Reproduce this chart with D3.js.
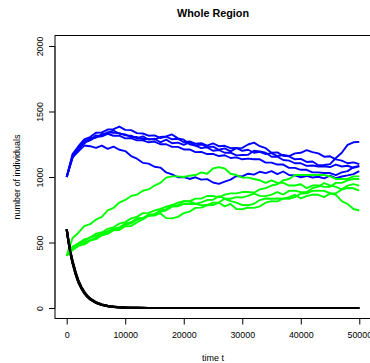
<!DOCTYPE html>
<html>
<head>
<meta charset="utf-8">
<script src="https://cdn.jsdelivr.net/npm/d3@7"></script>
<style>
  html, body { margin: 0; padding: 0; background: #fff; }
  svg { display: block; font-family: "Liberation Sans", Arial, Helvetica, sans-serif; }
</style>
</head>
<body>
<svg id="chart" width="370" height="363"></svg>
<script>
// ---------------- data ----------------
const title = "Whole Region";
const xLabel = "time t";
const yLabel = "number of individuals";
const xTicks = [0, 10000, 20000, 30000, 40000, 50000];
const yTicks = [0, 500, 1000, 1500, 2000];

// time grid (every 1000) for blue / green runs
const timeSteps = [0,1000,2000,3000,4000,5000,6000,7000,8000,9000,10000,11000,12000,13000,14000,15000,16000,17000,18000,19000,20000,21000,22000,23000,24000,25000,26000,27000,28000,29000,30000,31000,32000,33000,34000,35000,36000,37000,38000,39000,40000,41000,42000,43000,44000,45000,46000,47000,48000,49000,50000];

const blue1 = [1000,1150,1195,1240,1235,1222,1240,1215,1232,1208,1198,1160,1140,1108,1102,1078,1072,1035,1020,998,1000,985,998,980,984,958,948,965,980,1008,1005,1025,1018,1040,1030,1045,1022,1042,1015,1012,998,1008,996,1002,990,1010,992,1004,1012,1022,1045];
const blue2 = [1000,1165,1225,1278,1285,1318,1312,1342,1338,1335,1318,1315,1295,1310,1285,1292,1265,1285,1258,1262,1245,1265,1240,1248,1228,1232,1208,1218,1195,1220,1222,1248,1262,1235,1220,1185,1188,1162,1158,1135,1138,1115,1118,1090,1092,1098,1145,1185,1245,1265,1268];
const blue3 = [1000,1175,1235,1288,1305,1338,1340,1362,1365,1385,1360,1358,1335,1332,1315,1318,1298,1308,1288,1292,1265,1272,1255,1258,1240,1256,1235,1238,1220,1222,1200,1208,1185,1192,1175,1182,1160,1168,1160,1180,1185,1205,1190,1180,1155,1158,1135,1125,1105,1112,1098];
const blue4 = [1000,1145,1225,1255,1298,1300,1328,1335,1355,1330,1325,1305,1305,1290,1290,1285,1305,1310,1325,1295,1285,1250,1240,1220,1226,1200,1206,1185,1186,1165,1168,1170,1200,1195,1185,1155,1155,1130,1125,1105,1105,1085,1088,1080,1082,1076,1094,1080,1086,1070,1082];
const blue5 = [1000,1160,1210,1262,1280,1305,1310,1330,1315,1316,1295,1296,1280,1280,1265,1270,1250,1250,1230,1230,1210,1210,1190,1192,1175,1176,1160,1166,1145,1150,1135,1140,1135,1135,1110,1110,1095,1095,1070,1070,1055,1055,1035,1035,1030,1030,1015,1035,1045,1075,1085];

const green1 = [400,535,575,625,640,675,695,745,765,805,825,855,865,895,905,935,955,995,1005,1005,1000,1010,1015,1035,1025,1065,1075,1065,1025,1015,995,995,985,975,955,975,955,955,935,935,945,915,935,935,925,925,955,955,975,985,985];
const green2 = [400,455,495,510,540,550,575,585,605,615,645,655,685,685,715,715,745,755,785,785,815,815,835,835,855,855,845,865,875,875,885,885,880,905,915,935,945,975,985,1015,1015,1015,1015,1015,1015,1005,985,985,985,1005,1005];
const green3 = [400,448,484,496,518,536,564,576,604,606,634,646,674,686,704,716,734,746,774,776,794,796,794,806,824,826,854,836,834,846,844,856,874,856,854,866,884,866,894,896,884,886,914,926,954,936,924,906,934,946,934];
const green4 = [400,468,492,524,536,568,576,604,616,644,656,684,696,724,726,744,756,774,786,804,816,814,796,784,786,804,806,834,816,804,786,784,796,824,836,834,836,834,846,864,836,854,866,864,846,874,876,904,916,914,896];
const green5 = [400,442,474,486,514,526,554,566,594,596,624,626,654,676,704,706,724,686,684,696,724,736,764,766,784,786,804,776,794,756,754,766,764,776,804,816,814,836,834,846,874,876,894,896,894,876,864,816,794,756,744];

// time grid for the fast-decaying black runs
const blackSteps = [0,250,500,750,1000,1500,2000,2500,3000,3500,4000,5000,6000,7000,8000,9000,10000,11000,12000,14000,16000,20000,30000,40000,50000];
const black1 = [600,525,460,400,350,268,200,155,118,90,69,41,25,15,9,5,3,2,1,0,0,0,0,0,0];
const black2 = [600,520,452,392,342,260,194,150,113,86,66,39,23,14,8,5,3,1,1,0,0,0,0,0,0];
const black3 = [600,530,468,410,360,278,210,162,124,95,73,44,27,17,10,6,4,2,1,0,0,0,0,0,0];
const black4 = [600,522,455,396,345,263,197,152,115,88,67,40,24,14,9,5,3,2,1,0,0,0,0,0,0];
const black5 = [600,528,464,405,355,273,206,159,121,93,71,43,26,16,10,6,3,2,1,0,0,0,0,0,0];

const blueRuns = [blue1, blue2, blue3, blue4, blue5];
const greenRuns = [green1, green2, green3, green4, green5];
const blackRuns = [black1, black2, black3, black4, black5];

// ---------------- drawing ----------------
(function () {
  const svg = d3.select("#chart");
  const mL = 55, mR = 371, mT = 35.5, mB = 318.5;

  const x = d3.scaleLinear().domain([-2000, 52000]).range([mL, mR]);
  const y = d3.scaleLinear().domain([-80, 2080]).range([mB, mT]);

  const line = d3.line().x(d => x(d[0])).y(d => y(d[1]));

  const plot = svg.append("g");
  for (let i = 0; i < 5; i++) {
    plot.append("path")
      .attr("d", line(timeSteps.map((t, k) => [t, blueRuns[i][k]])))
      .attr("fill", "none").attr("stroke", "#0000ff").attr("stroke-width", 1.9)
      .attr("stroke-linejoin", "round");
    plot.append("path")
      .attr("d", line(timeSteps.map((t, k) => [t, greenRuns[i][k]])))
      .attr("fill", "none").attr("stroke", "#00ff00").attr("stroke-width", 1.9)
      .attr("stroke-linejoin", "round");
    plot.append("path")
      .attr("d", line(blackSteps.map((t, k) => [t, blackRuns[i][k]])))
      .attr("fill", "none").attr("stroke", "#000000").attr("stroke-width", 2.2)
      .attr("stroke-linejoin", "round");
  }

  // box
  svg.append("rect")
    .attr("x", mL).attr("y", mT)
    .attr("width", mR - mL).attr("height", mB - mT)
    .attr("fill", "none").attr("stroke", "#000").attr("stroke-width", 1);

  // x axis
  const gx = svg.append("g")
    .attr("transform", `translate(0,${mB})`)
    .call(d3.axisBottom(x).tickValues(xTicks).tickSize(6).tickSizeOuter(0).tickFormat(d3.format("d")));
  gx.select(".domain").remove();
  gx.selectAll(".tick line").attr("stroke", "#000");
  gx.selectAll(".tick text")
    .attr("y", 19.8).attr("dy", 0)
    .attr("font-size", "8.9px").attr("fill", "#000")
    .attr("font-family", "Liberation Sans, Arial, sans-serif");
  svg.append("line")
    .attr("x1", x(0)).attr("x2", x(50000)).attr("y1", mB).attr("y2", mB)
    .attr("stroke", "#000");

  // y axis
  const gy = svg.append("g")
    .attr("transform", `translate(${mL},0)`)
    .call(d3.axisLeft(y).tickValues(yTicks).tickSize(6).tickSizeOuter(0).tickFormat(d3.format("d")));
  gy.select(".domain").remove();
  gy.selectAll(".tick line").attr("stroke", "#000");
  gy.selectAll(".tick text")
    .attr("transform", "rotate(-90)")
    .attr("x", 0).attr("y", -12.5).attr("dy", 0)
    .attr("text-anchor", "middle")
    .attr("font-size", "8.9px").attr("fill", "#000")
    .attr("font-family", "Liberation Sans, Arial, sans-serif");
  svg.append("line")
    .attr("x1", mL).attr("x2", mL).attr("y1", y(0)).attr("y2", y(2000))
    .attr("stroke", "#333").attr("stroke-width", 1);

  // titles
  svg.append("text")
    .attr("x", (mL + mR) / 2).attr("y", 17)
    .attr("text-anchor", "middle")
    .attr("font-size", "10.8px").attr("font-weight", "bold")
    .text(title);

  svg.append("text")
    .attr("x", (mL + mR) / 2).attr("y", 360.5)
    .attr("text-anchor", "middle")
    .attr("font-size", "9px")
    .text(xLabel);

  svg.append("text")
    .attr("transform", `translate(20,${(mT + mB) / 2}) rotate(-90)`)
    .attr("text-anchor", "middle")
    .attr("font-size", "9px")
    .text(yLabel);
})();
</script>
</body>
</html>
